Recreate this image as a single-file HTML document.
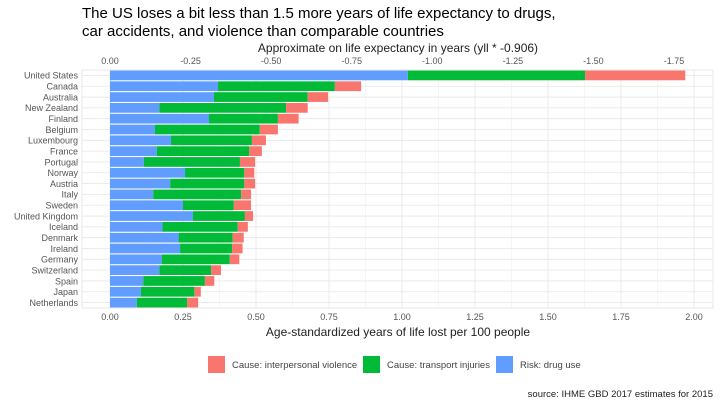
<!DOCTYPE html>
<html><head><meta charset="utf-8"><style>
body{margin:0;background:#fff;font-family:"Liberation Sans",sans-serif}
</style></head><body>
<svg id="chart" width="720" height="403" xmlns="http://www.w3.org/2000/svg" font-family="Liberation Sans, sans-serif">
<rect width="720" height="403" fill="#fff"/>
<text x="82" y="18" font-size="15" fill="#000">The US loses a bit less than 1.5 more years of life expectancy to drugs,</text>
<text x="82" y="36" font-size="15" fill="#000">car accidents, and violence than comparable countries</text>
<text x="398" y="52" font-size="12" text-anchor="middle" fill="#222">Approximate on life expectancy in years (yll * -0.906)</text>
<g id="grid"></g><g id="bars"></g><g id="axes"></g>
<text x="398" y="336" font-size="12" text-anchor="middle" fill="#222">Age-standardized years of life lost per 100 people</text>
<g font-size="9.5" fill="#444">
<rect x="208" y="356" width="17" height="17" fill="#F8766D"/>
<text x="232" y="368">Cause: interpersonal violence</text>
<rect x="363" y="356" width="17" height="17" fill="#00BA38"/>
<text x="387" y="368">Cause: transport injuries</text>
<rect x="496" y="356" width="17" height="17" fill="#619CFF"/>
<text x="520" y="368">Risk: drug use</text>
</g>
<text x="713" y="397" font-size="9.5" text-anchor="end" fill="#222">source: IHME GBD 2017 estimates for 2015</text>
</svg>
<script>
const countries=["United States","Canada","Australia","New Zealand","Finland","Belgium","Luxembourg","France","Portugal","Norway","Austria","Italy","Sweden","United Kingdom","Iceland","Denmark","Ireland","Germany","Switzerland","Spain","Japan","Netherlands"];
const drugUse=[1.02,0.37,0.356,0.169,0.339,0.154,0.209,0.16,0.116,0.257,0.206,0.148,0.25,0.284,0.18,0.235,0.24,0.178,0.169,0.114,0.106,0.092];
const transport=[0.607,0.40,0.321,0.434,0.236,0.359,0.277,0.317,0.329,0.203,0.254,0.301,0.174,0.178,0.257,0.185,0.178,0.232,0.177,0.211,0.183,0.172];
const violence=[0.343,0.09,0.07,0.074,0.071,0.062,0.048,0.043,0.052,0.034,0.037,0.034,0.059,0.028,0.035,0.038,0.036,0.033,0.034,0.032,0.022,0.038];
const bottomTicks=[0,0.25,0.5,0.75,1,1.25,1.5,1.75,2];
const topTicks=[0,-0.25,-0.5,-0.75,-1,-1.25,-1.5,-1.75];
const factor=-0.906;
const NS="http://www.w3.org/2000/svg";
const X0=110,PX=292,PL=82,PR=713,PT=70,PB=308,ROW=(PB-PT)/countries.length;
const x=v=>X0+v*PX;
const y=i=>PT+i*ROW;
function mk(tag,attrs,parent){const e=document.createElementNS(NS,tag);for(const k in attrs)e.setAttribute(k,attrs[k]);parent.appendChild(e);return e;}
const grid=document.getElementById('grid'),bars=document.getElementById('bars'),axes=document.getElementById('axes');
mk('rect',{x:PL,y:PT,width:PR-PL,height:PB-PT,fill:'#fff',stroke:'#ddd','stroke-width':0.6},grid);
for(let i=0;i<bottomTicks.length-1;i++){const m=(bottomTicks[i]+bottomTicks[i+1])/2;
 const l=mk('line',{x1:x(m),x2:x(m),y1:PT,y2:PB,stroke:'#f0f0f0','stroke-width':0.6},grid);
 }
bottomTicks.forEach(t=>{const l=mk('line',{x1:x(t),x2:x(t),y1:PT,y2:PB,stroke:'#e6e6e6','stroke-width':0.8},grid);
 
 const tx=mk('text',{x:x(t),y:320,'font-size':9,'text-anchor':'middle',fill:'#555'},axes);tx.textContent=t.toFixed(2);
 });
topTicks.forEach(t=>{const tx=mk('text',{x:x(t/factor),y:64,'font-size':9,'text-anchor':'middle',fill:'#555'},axes);tx.textContent=t.toFixed(2);
 });
countries.forEach((c,i)=>{const cy=y(i)+ROW/2;
 const gl=mk('line',{x1:PL,x2:PR,y1:cy,y2:cy,stroke:'#e6e6e6','stroke-width':0.8},grid);
 
 const h=ROW*0.9,top=cy-h/2;
 const b1=mk('rect',{x:x(0),y:top,width:x(drugUse[i])-x(0),height:h,fill:'#619CFF'},bars);
 
 const b2=mk('rect',{x:x(drugUse[i]),y:top,width:x(drugUse[i]+transport[i])-x(drugUse[i]),height:h,fill:'#00BA38'},bars);
 
 const s=drugUse[i]+transport[i];
 const b3=mk('rect',{x:x(s),y:top,width:x(s+violence[i])-x(s),height:h,fill:'#F8766D'},bars);
 
 const tx=mk('text',{x:PL-4,y:cy+3.3,'font-size':9,'text-anchor':'end',fill:'#555'},axes);tx.textContent=c;
 });
</script>
</body></html>
